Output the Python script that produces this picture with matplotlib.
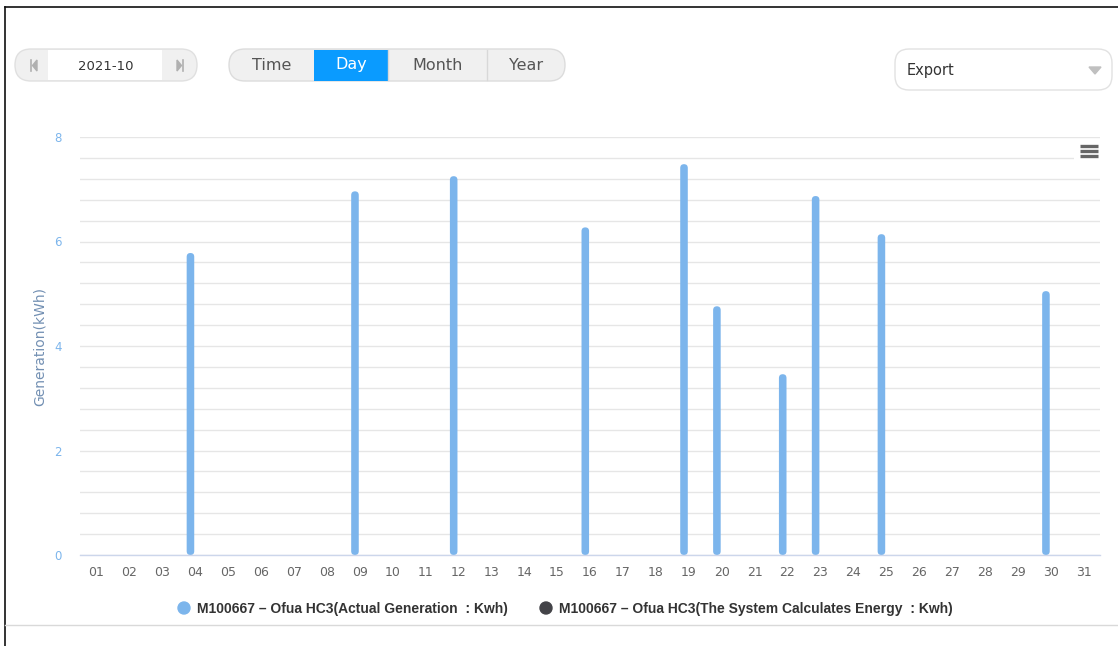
import numpy as np
import matplotlib
matplotlib.use("Agg")
import matplotlib.pyplot as plt
from matplotlib.patches import FancyBboxPatch, Rectangle, Circle, Polygon
from matplotlib.ticker import MultipleLocator

# Daily generation for October 2021 (kWh)
days = [f"{d:02d}" for d in range(1, 32)]
actual_days = ["04", "09", "12", "16", "19", "20", "22", "23", "25", "30"]
actual_values = [5.78, 6.96, 7.25, 6.27, 7.48, 4.76, 3.46, 6.87, 6.14, 5.05]
system_values = [0.0] * 31

series_names = [
    "M100667 \u2013 Ofua HC3(Actual Generation  : Kwh)",
    "M100667 \u2013 Ofua HC3(The System Calculates Energy  : Kwh)",
]
series_colors = ["#7cb5ec", "#434348"]
period_buttons = ["Time", "Day", "Month", "Year"]
month_label = "2021-10"

actual_full = [0.0] * 31
for d, v in zip(actual_days, actual_values):
    actual_full[days.index(d)] = v

W, H = 1118, 646
fig = plt.figure(figsize=(W / 100, H / 100), dpi=100)
fig.patch.set_facecolor("white")

# ---- chart area ----
ax_l, ax_r, ax_t, ax_b = 80, 1100, 137, 555
ax = fig.add_axes([ax_l / W, 1 - ax_b / H, (ax_r - ax_l) / W, (ax_b - ax_t) / H])
ax.set_facecolor("none")
x = np.arange(len(days))
bw = 0.23
off = 0.143
bars1 = ax.bar(x - off, actual_full, width=bw, color=series_colors[0])
bars2 = ax.bar(x + off, system_values, width=bw, color=series_colors[1])

ax.set_xlim(-0.5, len(days) - 0.5)
ax.set_ylim(0, 8)

# round the bar ends (aspect-corrected so caps stay circular)
px_x = (ax_r - ax_l) / len(days)
px_y = (ax_b - ax_t) / 8
aspect = px_x / px_y
for bars in (bars1, bars2):
    for rect in bars:
        h = rect.get_height()
        if h <= 0:
            rect.set_visible(False)
            continue
        xy = rect.get_xy()
        w = rect.get_width()
        fb = FancyBboxPatch(xy, w, h,
                            boxstyle=f"round,pad=0,rounding_size={w / 2}",
                            mutation_aspect=aspect,
                            facecolor=rect.get_facecolor(), edgecolor="none",
                            zorder=3)
        ax.add_patch(fb)
        rect.set_visible(False)

ax.yaxis.set_major_locator(MultipleLocator(2))
ax.yaxis.set_minor_locator(MultipleLocator(0.4))
ax.grid(True, which="both", axis="y", color="#e6e6e6", linewidth=1.0, zorder=0)
ax.set_axisbelow(True)
for s in ("top", "right", "left"):
    ax.spines[s].set_visible(False)
ax.spines["bottom"].set_color("#ccd6eb")
ax.spines["bottom"].set_linewidth(1.0)
ax.spines["bottom"].set_zorder(4)

ax.set_xticks(x)
ax.set_xticklabels(days)
ax.tick_params(axis="x", length=0, pad=8, labelsize=9, labelcolor="#666666")
ax.tick_params(axis="y", which="both", length=0, pad=13, labelsize=8.5,
               labelcolor="#7cb5ec")
ax.set_ylabel("Generation(kWh)", color="#7390b3", fontsize=10)
ax.yaxis.set_label_coords(-0.0325, 0.5)

# ---- UI overlay in pixel coordinates ----
ui = fig.add_axes([0, 0, 1, 1])
ui.set_xlim(0, W)
ui.set_ylim(H, 0)
ui.axis("off")
ui.set_facecolor("none")
ui.set_zorder(5)

# page frame
ui.plot([5, W], [7, 7], color="#111111", lw=1.2)
ui.plot([5, 5], [7, H], color="#111111", lw=1.2)
ui.plot([5, W], [625, 625], color="#d9d9d9", lw=1.0)

# month picker
ui.add_patch(FancyBboxPatch((15, 49), 182, 32, boxstyle="round,pad=0,rounding_size=16",
                            facecolor="#f0f0f0", edgecolor="#e0e0e0", lw=1))
ui.add_patch(Rectangle((48, 50), 114, 30, facecolor="white", edgecolor="none"))
ui.text(106, 66, month_label, ha="center", va="center", fontsize=9.5, color="#333333")
ui.plot([31, 31], [60, 71], color="#b0b0b0", lw=1.2)
ui.add_patch(Polygon([[37, 60], [37, 71], [32.5, 65.5]], closed=True, color="#b0b0b0"))
ui.plot([183, 183], [60, 71], color="#b0b0b0", lw=1.2)
ui.add_patch(Polygon([[177, 60], [177, 71], [181.5, 65.5]], closed=True, color="#b0b0b0"))

# period buttons
ui.add_patch(FancyBboxPatch((229, 49), 336, 32, boxstyle="round,pad=0,rounding_size=16",
                            facecolor="#f0f0f0", edgecolor="#dcdcdc", lw=1))
seg_edges = [229, 314, 388, 487, 565]
for i, name in enumerate(period_buttons):
    x0, x1 = seg_edges[i], seg_edges[i + 1]
    if name == "Day":
        ui.add_patch(Rectangle((x0, 49.5), x1 - x0, 31, facecolor="#0a9bff",
                               edgecolor="none"))
        col = "white"
    else:
        col = "#555555"
    if i in (2, 3):
        ui.plot([x0, x0], [50, 80], color="#d8d8d8", lw=1)
    ui.text((x0 + x1) / 2, 65, name, ha="center", va="center", fontsize=11.5, color=col)

# export dropdown
ui.add_patch(FancyBboxPatch((895, 49), 217, 41, boxstyle="round,pad=0,rounding_size=14",
                            facecolor="white", edgecolor="#e2e2e2", lw=1))
ui.text(907, 71, "Export", ha="left", va="center", fontsize=10.5, color="#333333")
ui.add_patch(Polygon([[1089, 67], [1101, 67], [1095, 74]], closed=True, color="#c0c0c0"))

# context menu icon
ui.add_patch(Rectangle((1074, 141), 30, 22, facecolor="white", edgecolor="none"))
for yy in (146, 151, 156):
    ui.plot([1080, 1098], [yy, yy], color="#666666", lw=2.4, solid_capstyle="butt")

# legend
leg_font = dict(fontsize=10, fontweight="bold", color="#333333",
                family=["Liberation Sans", "DejaVu Sans"])
ui.add_patch(Circle((184, 608), 6, color=series_colors[0]))
ui.text(197, 608.5, series_names[0], ha="left", va="center", **leg_font)
ui.add_patch(Circle((546, 608), 6, color=series_colors[1]))
ui.text(559, 608.5, series_names[1], ha="left", va="center", **leg_font)

fig.savefig("out.png", dpi=100, facecolor="white")
